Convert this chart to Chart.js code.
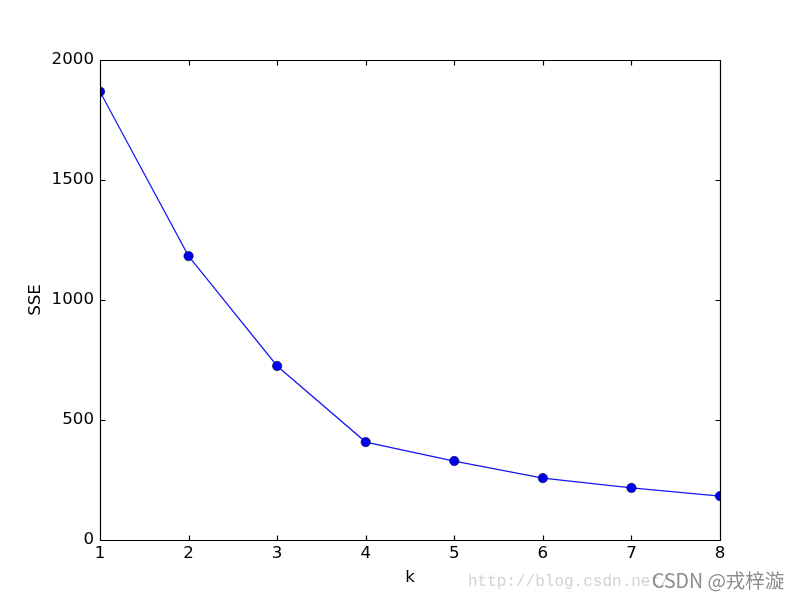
<!DOCTYPE html>
<html>
<head>
<meta charset="utf-8">
<title>SSE vs k</title>
<script src="https://cdn.jsdelivr.net/npm/chart.js@4/dist/chart.umd.min.js"></script>
<style>
  html, body { margin: 0; padding: 0; background: #fff; }
  #wrap { width: 800px; height: 600px; }
</style>
</head>
<body>
<div id="wrap"><canvas id="elbowChart" width="800" height="600"></canvas></div>
<script>
// ─── Data ────────────────────────────────────────────────────────────────────
const K_VALUES   = [1, 2, 3, 4, 5, 6, 7, 8];
const SSE_VALUES = [1868, 1183, 725, 408, 329, 258, 217, 183];
const Y_TICKS    = [0, 500, 1000, 1500, 2000];

const FONT = { family: 'DejaVu Sans, sans-serif', size: 16.67 };

// ─── Box frame + inward ticks on all four sides (matplotlib classic look) ────
const frameTicks = {
  id: 'frameTicks',
  afterDraw(chart) {
    const { ctx, chartArea: a, scales: { x, y } } = chart;
    const L = Math.round(a.left) + 0.5, R = Math.round(a.right) + 0.5;
    const T = Math.round(a.top) + 0.5,  B = Math.round(a.bottom) + 0.5;
    const len = 5;
    ctx.save();
    ctx.strokeStyle = '#000';
    ctx.lineWidth = 1.2;
    ctx.beginPath();
    ctx.rect(L, T, R - L, B - T);
    x.ticks.forEach(t => {
      const px = Math.round(x.getPixelForValue(t.value)) + 0.5;
      ctx.moveTo(px, B); ctx.lineTo(px, B - len);
      ctx.moveTo(px, T); ctx.lineTo(px, T + len);
    });
    y.ticks.forEach(t => {
      const py = Math.round(y.getPixelForValue(t.value)) + 0.5;
      ctx.moveTo(L, py); ctx.lineTo(L + len, py);
      ctx.moveTo(R, py); ctx.lineTo(R - len, py);
    });
    ctx.stroke();

    // watermark in the lower right corner
    ctx.textBaseline = 'alphabetic';
    ctx.fillStyle = '#d2d2d2';
    ctx.font = '16px "Liberation Mono", monospace';
    ctx.fillText('http://blog.csdn.net/', 468, 586);
    ctx.fillStyle = 'rgba(120,120,120,0.85)';
    ctx.font = '19.5px "Noto Sans CJK SC", "Noto Sans", sans-serif';
    ctx.fillText('CSDN @戎梓漩', 652, 588);
    ctx.restore();
  }
};

new Chart(document.getElementById('elbowChart'), {
  type: 'line',
  data: {
    datasets: [{
      label: 'SSE',
      data: K_VALUES.map((k, i) => ({ x: k, y: SSE_VALUES[i] })),
      borderColor: '#1515f0',
      borderWidth: 1.2,
      backgroundColor: '#0000ff',
      pointBackgroundColor: '#0000ee',
      pointBorderColor: '#000040',
      pointBorderWidth: 0.6,
      pointRadius: 4.7,
      tension: 0
    }]
  },
  options: {
    responsive: false,
    animation: false,
    devicePixelRatio: 1,
    layout: { padding: { top: 60, right: 80, left: 0, bottom: 0 } },
    plugins: {
      legend: { display: false },
      tooltip: { enabled: false }
    },
    scales: {
      x: {
        type: 'linear',
        min: 1, max: 8,
        grid: { display: false, drawTicks: false },
        border: { display: false },
        ticks: { stepSize: 1, color: '#000', font: FONT, padding: 4, maxRotation: 0 },
        title: { display: true, text: 'k', color: '#000', font: FONT, padding: { bottom: 12 } },
        afterFit(scale) { scale.height = 60; }
      },
      y: {
        type: 'linear',
        min: 0, max: 2000,
        grid: { display: false, drawTicks: false },
        border: { display: false },
        afterBuildTicks(scale) { scale.ticks = Y_TICKS.map(v => ({ value: v })); },
        ticks: { color: '#000', font: FONT, padding: 6, callback: v => String(v) },
        title: { display: true, text: 'SSE', color: '#000', font: FONT, padding: { top: 26 } },
        afterFit(scale) { scale.width = 100; }
      }
    }
  },
  plugins: [frameTicks]
});
</script>
</body>
</html>
